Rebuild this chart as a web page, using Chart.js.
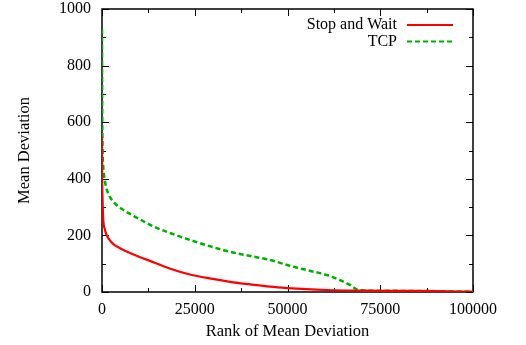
<!DOCTYPE html>
<html>
<head>
<meta charset="utf-8">
<script src="https://cdn.jsdelivr.net/npm/chart.js@4"></script>
<style>
  html, body { margin: 0; padding: 0; background: #fff; }
</style>
</head>
<body>
<canvas id="c" width="526" height="345"></canvas>
<script>
// --- data ---
const swLabel = 'Stop and Wait';
const swX = [0, 50, 150, 350, 700, 1300, 2000, 3000, 4500, 6500, 9000, 12900, 18000, 23700, 29000, 34500, 40000, 45300, 50000, 55000, 60600, 70000, 80000, 90000, 100000];
const swY = [550, 400, 330, 255, 225, 200, 185, 170, 157, 144, 130, 110, 84, 62, 48, 36, 27, 19, 14, 10, 7, 5, 4, 3, 1];

const tcpLabel = 'TCP';
const tcpX = [0, 30, 80, 150, 300, 750, 1620, 3000, 4300, 7800, 10000, 14000, 18000, 23700, 29000, 34500, 40000, 45300, 51600, 56000, 60600, 64150, 66850, 68650, 70000, 80000, 90000, 100000];
const tcpY = [930, 750, 600, 500, 450, 395, 350, 320, 303, 274, 258, 231, 210, 184, 162, 142, 127, 113, 89, 75, 60, 42, 25, 9, 6, 4, 3, 1];

const xTicks = [0, 25000, 50000, 75000, 100000];
const xMinor = [12500, 37500, 62500, 87500];
const yTicks = [0, 200, 400, 600, 800, 1000];
const yMinor = [100, 300, 500, 700, 900];

const xTitle = 'Rank of Mean Deviation';
const yTitle = 'Mean Deviation';

const FONT = "'Liberation Serif', 'DejaVu Serif', serif";

function toPoints(xs, ys) {
    return xs.map((x, i) => ({ x: x, y: ys[i] }));
}

function noPad(s) {
    s.paddingTop = 0;
    s.paddingBottom = 0;
    s.paddingLeft = 0;
    s.paddingRight = 0;
}

// gnuplot style frame with inward ticks on all four sides
const framePlugin = {
    id: 'frame',
    beforeDatasetsDraw(chart) {
        const { ctx, chartArea: a, scales: { x, y } } = chart;
        ctx.save();
        ctx.strokeStyle = '#000';
        ctx.lineWidth = 1;
        ctx.beginPath();
        const xt = (list, len) => list.forEach(v => {
            const px = Math.round(x.getPixelForValue(v)) + 0.5;
            ctx.moveTo(px, a.bottom); ctx.lineTo(px, a.bottom - len);
            ctx.moveTo(px, a.top); ctx.lineTo(px, a.top + len);
        });
        const yt = (list, len) => list.forEach(v => {
            const py = Math.round(y.getPixelForValue(v)) + 0.5;
            ctx.moveTo(a.left, py); ctx.lineTo(a.left + len, py);
            ctx.moveTo(a.right, py); ctx.lineTo(a.right - len, py);
        });
        xt(xTicks, 7); xt(xMinor, 4);
        yt(yTicks, 7); yt(yMinor, 4);
        ctx.stroke();
        ctx.lineWidth = 1.5;
        ctx.strokeRect(a.left, a.top, a.right - a.left, a.bottom - a.top);

        // axis titles
        ctx.fillStyle = '#000';
        ctx.font = '16.5px ' + FONT;
        ctx.textAlign = 'center';
        ctx.textBaseline = 'middle';
        ctx.fillText(xTitle, (a.left + a.right) / 2, 332);
        ctx.translate(25, (a.top + a.bottom) / 2);
        ctx.rotate(-Math.PI / 2);
        ctx.fillText(yTitle, 0, 0);
        ctx.restore();
    }
};

// key in the top right corner: text right aligned, sample line after it
const keyPlugin = {
    id: 'key',
    afterDraw(chart) {
        const { ctx } = chart;
        ctx.save();
        ctx.font = '16px ' + FONT;
        ctx.textAlign = 'right';
        ctx.textBaseline = 'middle';
        chart.data.datasets.forEach((ds, i) => {
            const yy = 25 + i * 16.5;
            ctx.fillStyle = '#000';
            ctx.fillText(ds.label, 397, yy);
            ctx.strokeStyle = ds.borderColor;
            ctx.lineWidth = 2;
            ctx.setLineDash(ds.borderDash || []);
            ctx.beginPath();
            ctx.moveTo(407, yy);
            ctx.lineTo(453, yy);
            ctx.stroke();
        });
        ctx.restore();
    }
};

new Chart(document.getElementById('c'), {
    type: 'line',
    data: {
        datasets: [
            {
                label: swLabel,
                data: toPoints(swX, swY),
                borderColor: '#ff0000',
                borderWidth: 2.2,
                pointRadius: 0,
                cubicInterpolationMode: 'monotone',
                fill: false
            },
            {
                label: tcpLabel,
                data: toPoints(tcpX, tcpY),
                borderColor: '#00b000',
                borderWidth: 2.5,
                borderDash: [5, 3],
                pointRadius: 0,
                cubicInterpolationMode: 'monotone',
                fill: false
            }
        ]
    },
    options: {
        responsive: false,
        animation: false,
        events: [],
        layout: { padding: { left: 0, top: 9, right: 53, bottom: 0 } },
        plugins: {
            legend: { display: false },
            tooltip: { enabled: false }
        },
        scales: {
            x: {
                type: 'linear',
                min: 0,
                max: 100000,
                afterBuildTicks: s => { s.ticks = xTicks.map(v => ({ value: v })); },
                afterFit: s => { s.height = 53; noPad(s); },
                grid: { display: false, drawTicks: false },
                border: { display: false },
                ticks: {
                    color: '#000',
                    padding: 8,
                    maxRotation: 0,
                    font: { family: FONT, size: 16 },
                    callback: v => String(v)
                }
            },
            y: {
                type: 'linear',
                min: 0,
                max: 1000,
                afterBuildTicks: s => { s.ticks = yTicks.map(v => ({ value: v })); },
                afterFit: s => { s.width = 102; noPad(s); },
                grid: { display: false, drawTicks: false },
                border: { display: false },
                ticks: {
                    color: '#000',
                    padding: 11,
                    font: { family: FONT, size: 16 },
                    callback: v => String(v)
                }
            }
        }
    },
    plugins: [framePlugin, keyPlugin]
});
</script>
</body>
</html>
